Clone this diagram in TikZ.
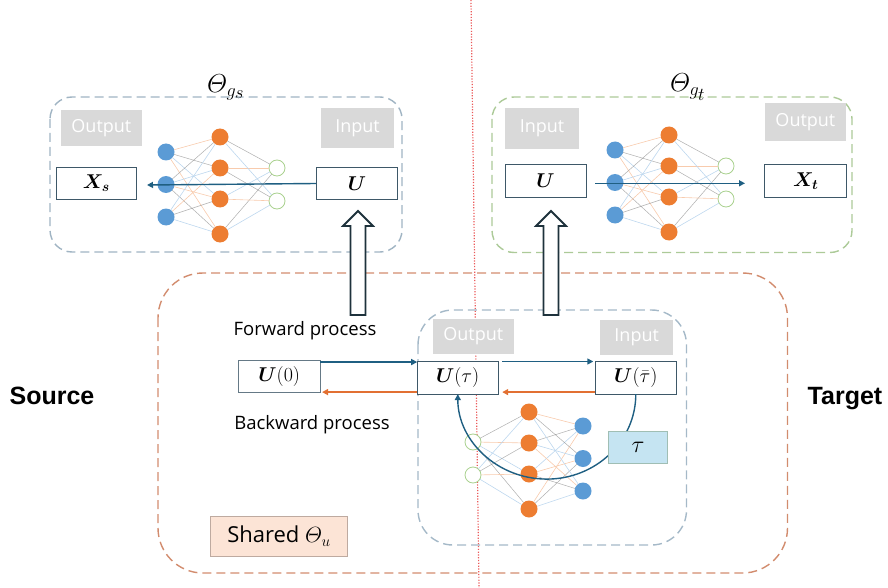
\RequirePackage{fix-cm}
\documentclass[tikz,border=0pt]{standalone}
\usepackage{amsmath,bm}
\usepackage[no-math]{fontspec}
\setmainfont{Open Sans}
\newfontfamily\boldsans{Liberation Sans}
\usetikzlibrary{arrows.meta,calc}

\definecolor{tealarr}{RGB}{31,95,130}
\definecolor{orarr}{RGB}{226,112,50}
\definecolor{valborder}{RGB}{62,88,104}
\definecolor{boxgray}{RGB}{217,217,217}
\definecolor{tlcol}{RGB}{160,180,195}
\definecolor{trcol}{RGB}{172,202,152}
\definecolor{orcol}{RGB}{210,140,110}
\definecolor{incol}{RGB}{165,185,200}
\definecolor{taufill}{RGB}{197,228,242}
\definecolor{tauborder}{RGB}{160,190,180}
\definecolor{sharefill}{RGB}{252,228,214}
\definecolor{shareborder}{RGB}{190,170,160}
\definecolor{hollowcol}{RGB}{30,50,60}
\definecolor{nblue}{RGB}{91,155,213}
\definecolor{norange}{RGB}{237,125,49}
\definecolor{ngreen}{RGB}{169,209,142}
\definecolor{egray}{RGB}{120,120,120}
\definecolor{eblue}{RGB}{189,215,238}
\definecolor{eorange}{RGB}{248,203,173}
\definecolor{divred}{RGB}{235,90,90}

\tikzset{
  every node/.style={inner sep=0pt, outer sep=0pt},
  dashbox/.style={line width=1.4pt, dash pattern=on 9pt off 5pt},
  graybox/.style={fill=boxgray, text=white, font=\fontsize{18}{20}\selectfont},
  valbox/.style={draw=valborder, line width=1pt, fill=white, font=\fontsize{20}{22}\selectfont},
  fwd/.style={draw=tealarr, line width=1.4pt, -{Triangle[length=6pt,width=6pt]}},
  bwd/.style={draw=orarr, line width=1.4pt, -{Triangle[length=6pt,width=6pt]}},
  hollow/.style={draw=hollowcol, line width=1.8pt, fill=white, line join=miter},
  bnode/.style={circle, fill=nblue, minimum size=17pt},
  onode/.style={circle, fill=norange, minimum size=17pt},
  gnode/.style={circle, draw=ngreen, line width=0.8pt, fill=white, minimum size=16pt},
  edge0/.style={draw=egray, line width=0.5pt, opacity=0.6},
  edge1/.style={draw=eblue, line width=0.6pt},
  edge2/.style={draw=eorange, line width=0.6pt},
  lbl/.style={font=\fontsize{18.5}{20}\selectfont},
  sidelbl/.style={font=\boldsans\bfseries\fontsize{25}{27}\selectfont},
  titlelbl/.style={font=\fontsize{20}{22}\selectfont, scale=1.3},
}

% #1 prefix, #2 xb, #3 xo, #4 xg, #5 yb, #6 yo, #7 yg
\newcommand\drawnet[7]{%
  \foreach \i in {1,2,3} {\node[bnode] (#1b\i) at ({#2},{#5+32.5*(\i-1)}) {};}
  \node[onode] (#1o1) at ({#3},{#6}) {};
  \node[onode] (#1o2) at ({#3},{#6+31}) {};
  \node[onode] (#1o3) at ({#3},{#6+62}) {};
  \node[onode] (#1o4) at ({#3},{#6+97}) {};
  \foreach \i in {1,2} {\node[gnode] (#1g\i) at ({#4},{#7+33*(\i-1)}) {};}
  \foreach \i in {1,2,3} {\foreach \j in {1,2,3,4} {%
    \pgfmathtruncatemacro\k{mod(\i+\j,3)}%
    \path[edge\k] (#1b\i) -- (#1o\j);}}
  \foreach \i in {1,2} {\foreach \j in {1,2,3,4} {%
    \pgfmathtruncatemacro\k{mod(\i+2*\j,3)}%
    \path[edge\k] (#1g\i) -- (#1o\j);}}
}

% hollow up arrow: #1 x centre, #2 y bottom, #3 y tip
\newcommand\hollowup[3]{%
  \draw[hollow] ({#1-7.5},{#2}) -- ({#1-7.5},{#3+15}) -- ({#1-15},{#3+15}) -- ({#1},{#3})
     -- ({#1+15},{#3+15}) -- ({#1+7.5},{#3+15}) -- ({#1+7.5},{#2}) -- cycle;
}

\begin{document}
\begin{tikzpicture}[x=1pt,y=-1pt]
\useasboundingbox (0,0) rectangle (888,588);

% red dotted divider
\draw[divred, line width=1.2pt, dash pattern=on 1.2pt off 1.6pt] (471,0) -- (479,588);

% dashed containers
\draw[dashbox, tlcol, rounded corners=22pt] (50,97) rectangle (402,252);
\draw[dashbox, trcol, rounded corners=22pt] (492,97) rectangle (852,252.5);
\draw[dashbox, orcol, rounded corners=45pt] (158,273) rectangle (787.5,573);
\draw[dashbox, incol, rounded corners=35pt] (418,310) rectangle (686.5,545);

% titles
\node[titlelbl] (thgs) at (226,87) {$\varTheta_{g_{\scriptstyle s}}$};
\node[titlelbl] (thgt) at (688,87) {$\varTheta_{g_{\scriptstyle t}}$};

% ---------- top-left network g_s
\node[graybox, minimum width=80.7pt, minimum height=36pt] (tlout) at (101.4,128) {Output};
\node[graybox, minimum width=73pt, minimum height=40pt] (tlin) at (357.5,128.3) {Input};
\node[valbox, minimum width=80.7pt, minimum height=32pt] (tlX) at (96.4,183.3) {$\boldsymbol{X_s}$};
\node[valbox, minimum width=81.7pt, minimum height=31.6pt] (tlU) at (356.9,183.5) {$\boldsymbol{U}$};
\drawnet{tl}{166}{220}{277}{152}{137}{168}
\coordinate (tlend) at (147,185);
\draw[fwd] (tlU.west) -- (tlend);

% ---------- top-right network g_t
\node[graybox, minimum width=74pt, minimum height=40.7pt] (trin) at (542,128.7) {Input};
\node[graybox, minimum width=80.7pt, minimum height=37.4pt] (trout) at (805.4,122) {Output};
\node[valbox, minimum width=81pt, minimum height=33pt] (trU) at (545.5,180.8) {$\boldsymbol{U}$};
\node[valbox, minimum width=81.7pt, minimum height=33pt] (trX) at (805.8,180.8) {$\boldsymbol{X_t}$};
\drawnet{tr}{615}{669}{726}{150}{135}{166}
\coordinate (trstart) at (595,183.3);
\coordinate (trend) at (745,183.3);
\draw[fwd] (trstart) -- (trend);

% ---------- hollow arrows
\hollowup{358}{315}{211}
\hollowup{551}{315}{211}

% ---------- shared diffusion part
\node[lbl] (fwdlbl) at (305,331) {Forward process};
\node[lbl] (bwdlbl) at (312,425) {Backward process};
\node[valbox, draw=valborder!80, minimum width=81.7pt, minimum height=32.3pt] (U0) at (279.2,376.2) {$\boldsymbol{U}(0)$};
\node[graybox, minimum width=81.3pt, minimum height=35.3pt] (inout) at (473.3,336.5) {Output};
\node[graybox, minimum width=73pt, minimum height=35pt] (inin) at (636.7,337) {Input};
\node[valbox, minimum width=81pt, minimum height=32.6pt] (Utau) at (457.7,377.8) {$\boldsymbol{U}(\tau)$};
\node[valbox, minimum width=81pt, minimum height=32.6pt] (Ubar) at (635.8,377.8) {$\boldsymbol{U}(\bar{\tau})$};

% lower network (mirrored)
\drawnet{lo}{583}{529}{473}{426}{412}{442}

% process arrows
\draw[fwd] ([yshift=-2pt]U0.north east) -- ([yshift=-2pt]U0.north east -| Utau.west);
\draw[bwd] ([yshift=2pt]Utau.south west) -- ([xshift=2pt,yshift=2pt]Utau.south west -| U0.east);
\draw[fwd] ([xshift=4pt]Utau.north east) -- ([xshift=-2pt]Ubar.north west);
\draw[bwd] ([yshift=2pt]Ubar.south west) -- ([xshift=4pt,yshift=2pt]Ubar.south west -| Utau.east);

% time arc
\draw[fwd] (Ubar.south) arc[start angle=0, end angle=-180, x radius=89pt, y radius=85pt];
\node[draw=tauborder, fill=taufill, line width=1pt, minimum width=59.4pt, minimum height=32.3pt] (tau) at (638,447.8) {};
\node[font=\fontsize{20}{22}\selectfont, scale=1.2] (taulbl) at (tau.center) {$\tau$};

% shared label
\node[draw=shareborder, fill=sharefill, line width=0.8pt, minimum width=136.6pt, minimum height=40pt,
      font=\fontsize{22}{24}\selectfont] (shared) at (279,536) {Shared $\varTheta_u$};

% side labels
\node[sidelbl] (src) at (52,396) {Source};
\node[sidelbl] (tgt) at (845,399) {Target};
\end{tikzpicture}
\end{document}
